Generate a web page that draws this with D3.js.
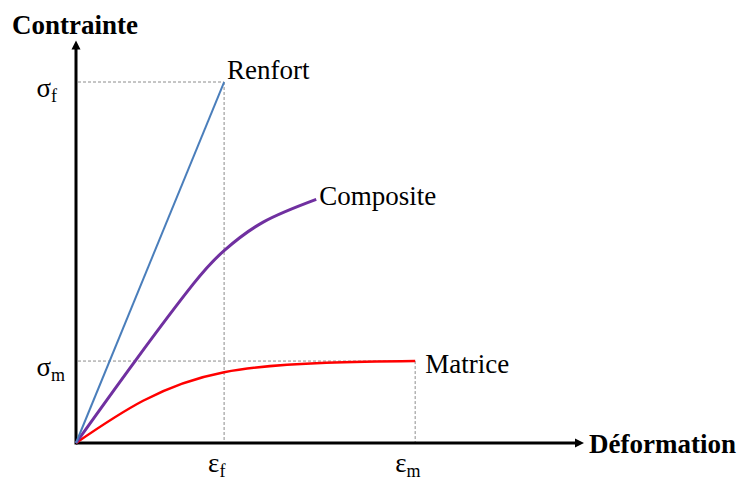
<!DOCTYPE html>
<html>
<head>
<meta charset="utf-8">
<script src="https://cdn.jsdelivr.net/npm/d3@7"></script>
<style>
  html, body { margin: 0; padding: 0; background: #fff; }
  svg { display: block; }
  text, tspan { font-family: "Liberation Serif", "Times New Roman", serif; fill: #000; }
</style>
</head>
<body>
<svg id="chart" width="741" height="480"></svg>
<script>
// ---- data (strain in units of εf, stress in units of σf) ----
const epsF = 1.0, epsM = 2.29;
const sigF = 1.0, sigM = 0.227;
const xMax = 3.43, yMax = 1.115;

const renfortX = [0, 1.0];
const renfortY = [0, 1.0];

const compositeX = [0, 0.399, 0.791, 1.0, 1.264, 1.622];
const compositeY = [0, 0.227, 0.440, 0.533, 0.612, 0.675];

const matriceX = [0, 0.453, 1.0, 1.689, 2.29];
const matriceY = [0, 0.117, 0.196, 0.222, 0.227];

const seriesNames = ["Renfort", "Composite", "Matrice"];
const axisTitles = ["Déformation", "Contrainte"];

// ---- layout ----
const svg = d3.select("#chart");
const x = d3.scaleLinear().domain([0, xMax]).range([76, 584]);
const y = d3.scaleLinear().domain([0, yMax]).range([443, 40.5]);

const zip = (a, b) => a.map((v, i) => [v, b[i]]);
const line = d3.line().x(d => x(d[0])).y(d => y(d[1])).curve(d3.curveNatural);

// dashed reference lines
const dash = svg.append("g").attr("stroke", "#8c8c8c").attr("stroke-width", 1)
  .attr("stroke-dasharray", "3,2").attr("fill", "none");
dash.append("line").attr("x1", x(0) + 2).attr("x2", x(epsF)).attr("y1", y(sigF)).attr("y2", y(sigF));
dash.append("line").attr("x1", x(epsF)).attr("x2", x(epsF)).attr("y1", y(sigF)).attr("y2", y(0));
dash.append("line").attr("x1", x(0) + 2).attr("x2", x(epsM)).attr("y1", y(sigM)).attr("y2", y(sigM));
dash.append("line").attr("x1", x(epsM)).attr("x2", x(epsM)).attr("y1", y(sigM)).attr("y2", y(0));

// axes with arrowheads
const axes = svg.append("g");
axes.append("line").attr("x1", x(0)).attr("x2", x(xMax) - 8).attr("y1", y(0)).attr("y2", y(0))
  .attr("stroke", "#000").attr("stroke-width", 3);
axes.append("line").attr("x1", x(0)).attr("x2", x(0)).attr("y1", y(0) + 1.5).attr("y2", y(yMax) + 8)
  .attr("stroke", "#000").attr("stroke-width", 3);
axes.append("path")
  .attr("d", `M${x(xMax)},${y(0)} L${x(xMax) - 9},${y(0) - 4.5} L${x(xMax) - 9},${y(0) + 4.5} Z`)
  .attr("fill", "#000");
axes.append("path")
  .attr("d", `M${x(0)},${y(yMax)} L${x(0) - 4.5},${y(yMax) + 9} L${x(0) + 4.5},${y(yMax) + 9} Z`)
  .attr("fill", "#000");

// curves
svg.append("path").datum(zip(matriceX, matriceY)).attr("d", line)
  .attr("fill", "none").attr("stroke", "#ff0000").attr("stroke-width", 2.5);
svg.append("path").datum(zip(compositeX, compositeY)).attr("d", line)
  .attr("fill", "none").attr("stroke", "#7030a0").attr("stroke-width", 3);
svg.append("path").datum(zip(renfortX, renfortY)).attr("d", d3.line().x(d => x(d[0])).y(d => y(d[1])))
  .attr("fill", "none").attr("stroke", "#4a7ebb").attr("stroke-width", 2);

// series labels
const lab = svg.append("g").attr("font-size", 27);
lab.append("text").attr("x", x(renfortX[1]) + 3).attr("y", y(renfortY[1]) - 3).text(seriesNames[0]);
lab.append("text").attr("x", x(compositeX[compositeX.length - 1]) + 3)
  .attr("y", y(compositeY[compositeY.length - 1]) + 6).text(seriesNames[1]);
lab.append("text").attr("x", x(epsM) + 10).attr("y", y(sigM) + 12).text(seriesNames[2]);

// axis titles
svg.append("text").attr("x", x(xMax) + 5).attr("y", y(0) + 10)
  .attr("font-size", 27).attr("font-weight", "bold").text(axisTitles[0]);
svg.append("text").attr("x", 12).attr("y", 34)
  .attr("font-size", 27).attr("font-weight", "bold").text(axisTitles[1]);

// tick symbols
function sym(xp, yp, main, sub) {
  const t = svg.append("text").attr("x", xp).attr("y", yp).attr("font-size", 27)
    .attr("font-family", "Liberation Serif");
  t.append("tspan").text(main);
  t.append("tspan").attr("font-size", 18).attr("dy", 5).text(sub);
}
sym(36.5, y(sigF) + 14.5, "σ", "f");
sym(36.5, y(sigM) + 15, "σ", "m");
sym(x(epsF) - 16, 472, "ε", "f");
sym(x(epsM) - 20, 472, "ε", "m");
</script>
</body>
</html>
